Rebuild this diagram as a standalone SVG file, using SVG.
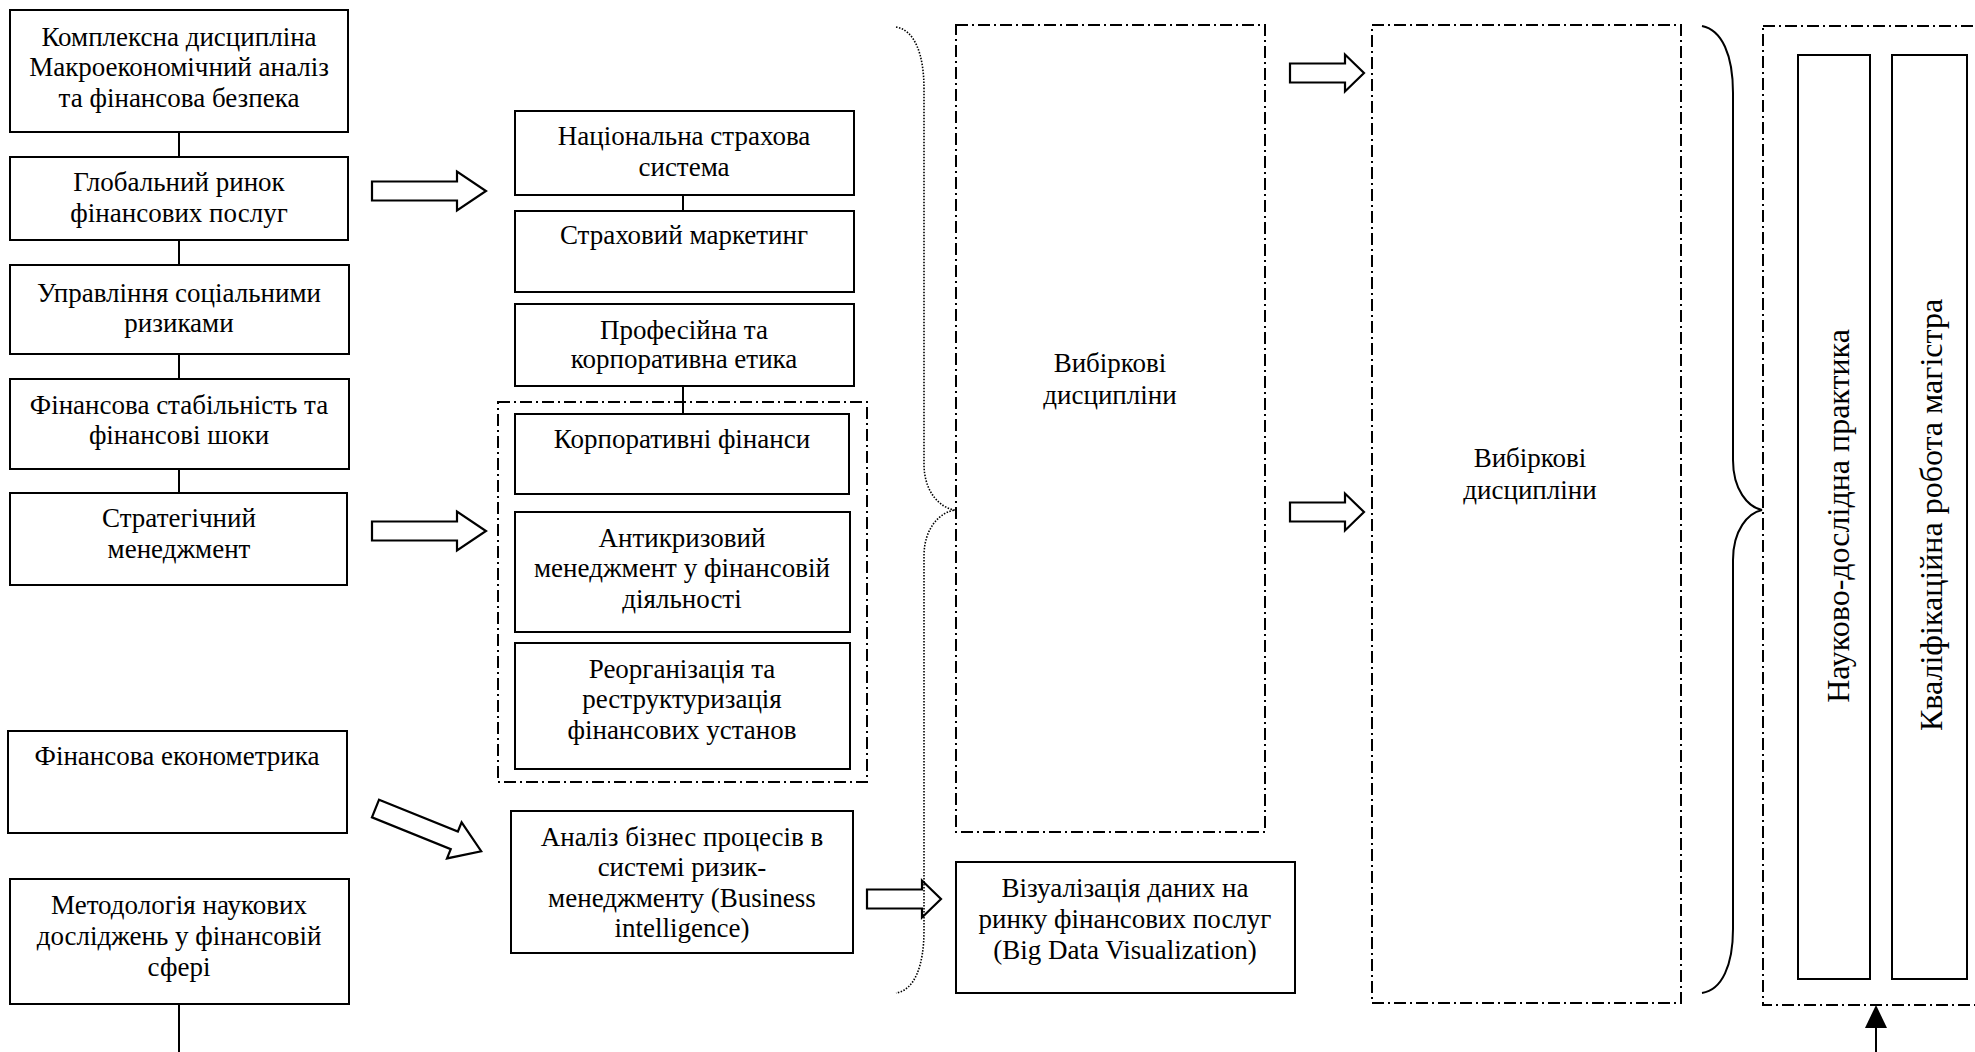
<svg xmlns="http://www.w3.org/2000/svg" width="1975" height="1052" viewBox="0 0 1975 1052">
<defs>
<style>
text{font-family:"Liberation Serif","Times New Roman",serif;font-size:27px;fill:#000;text-anchor:middle}
text.v{font-size:32px}
.box{fill:#fff;stroke:#000;stroke-width:2}
.dd{fill:none;stroke:#000;stroke-width:2;stroke-dasharray:12 4 2 4}
.ln{fill:none;stroke:#000;stroke-width:2}
.arr{fill:#fff;stroke:#000;stroke-width:2.2;stroke-linejoin:miter}
.dot{fill:none;stroke:#000;stroke-width:1.6;stroke-dasharray:1.5 1.5}
</style>
<polygon id="ha" points="0,-9.5 85,-9.5 85,-19.5 114,0 85,19.5 85,9.5 0,9.5"/>
<polygon id="hs" points="0,-9.5 55,-9.5 55,-18.5 74,0 55,18.5 55,9.5 0,9.5"/>
</defs>
<rect width="1975" height="1052" fill="#fff"/>

<g id="connectors">
<line class="ln" x1="179" y1="132" x2="179" y2="157"/>
<line class="ln" x1="179" y1="240" x2="179" y2="265"/>
<line class="ln" x1="179" y1="354" x2="179" y2="379"/>
<line class="ln" x1="179" y1="469" x2="179" y2="493"/>
<line class="ln" x1="179" y1="1004" x2="179" y2="1052"/>
<line class="ln" x1="683" y1="195" x2="683" y2="211"/>
<line class="ln" x1="683" y1="386" x2="683" y2="414"/>
<use href="#ha" class="arr" x="372" y="191"/>
<use href="#ha" class="arr" x="372" y="531"/>
<use href="#ha" class="arr" transform="translate(375.5,808.5) rotate(22)"/>
<use href="#hs" class="arr" x="867" y="899"/>
<use href="#hs" class="arr" x="1290" y="73"/>
<use href="#hs" class="arr" x="1290" y="512"/>
<path class="dot" d="M896,27 C915,30 924,55 924,89 L924,464 C924,492 940,508 955,510 C940,512 924,528 924,556 L924,930 C924,965 915,990 896,993"/>
<path class="ln" d="M1702,26 C1722,30 1733,55 1733,93 L1733,460 C1733,490 1748,507 1762,510 C1748,513 1733,530 1733,560 L1733,929 C1733,965 1722,990 1702,993"/>
<line class="ln" x1="1876" y1="1052" x2="1876" y2="1026"/>
<polygon points="1876,1005 1865,1028 1887,1028" fill="#000"/>
</g>

<g id="n1"><rect class="box" x="10" y="10" width="338" height="122"/>
<text x="179" y="46">Комплексна дисципліна</text><text x="179" y="76">Макроекономічний аналіз</text><text x="179" y="107">та фінансова безпека</text></g>
<g id="n2"><rect class="box" x="10" y="157" width="338" height="83"/>
<text x="179" y="191">Глобальний ринок</text><text x="179" y="222">фінансових послуг</text></g>
<g id="n3"><rect class="box" x="10" y="265" width="339" height="89"/>
<text x="179" y="302">Управління соціальними</text><text x="179" y="332">ризиками</text></g>
<g id="n4"><rect class="box" x="10" y="379" width="339" height="90"/>
<text x="179" y="414">Фінансова стабільність та</text><text x="179" y="444">фінансові шоки</text></g>
<g id="n5"><rect class="box" x="10" y="493" width="337" height="92"/>
<text x="179" y="527">Стратегічний</text><text x="179" y="558">менеджмент</text></g>
<g id="n6"><rect class="box" x="8" y="731" width="339" height="102"/>
<text x="177" y="765">Фінансова економетрика</text></g>
<g id="n7"><rect class="box" x="10" y="879" width="339" height="125"/>
<text x="179" y="914">Методологія наукових</text><text x="179" y="945">досліджень у фінансовій</text><text x="179" y="976">сфері</text></g>

<g id="n8"><rect class="box" x="515" y="111" width="339" height="84"/>
<text x="684" y="145">Національна страхова</text><text x="684" y="176">система</text></g>
<g id="n9"><rect class="box" x="515" y="211" width="339" height="81"/>
<text x="684" y="244">Страховий маркетинг</text></g>
<g id="n10"><rect class="box" x="515" y="304" width="339" height="82"/>
<text x="684" y="339">Професійна та</text><text x="684" y="368">корпоративна етика</text></g>
<g id="grp1"><rect class="dd" x="498" y="402" width="369" height="380"/></g>
<g id="n11"><rect class="box" x="515" y="414" width="334" height="80"/>
<text x="682" y="448">Корпоративні фінанси</text></g>
<g id="n12"><rect class="box" x="515" y="512" width="335" height="120"/>
<text x="682" y="547">Антикризовий</text><text x="682" y="577">менеджмент у фінансовій</text><text x="682" y="608">діяльності</text></g>
<g id="n13"><rect class="box" x="515" y="643" width="335" height="126"/>
<text x="682" y="678">Реорганізація та</text><text x="682" y="708">реструктуризація</text><text x="682" y="739">фінансових установ</text></g>
<g id="n14"><rect class="box" x="511" y="811" width="342" height="142"/>
<text x="682" y="846">Аналіз бізнес процесів в</text><text x="682" y="876">системі ризик-</text><text x="682" y="907">менеджменту (Business</text><text x="682" y="937">intelligence)</text></g>

<g id="n15"><rect class="dd" x="956" y="25" width="309" height="807"/>
<text x="1110" y="372">Вибіркові</text><text x="1110" y="404">дисципліни</text></g>
<g id="n16"><rect class="box" x="956" y="862" width="339" height="131"/>
<text x="1125" y="897">Візуалізація даних на</text><text x="1125" y="928">ринку фінансових послуг</text><text x="1125" y="959">(Big Data Visualization)</text></g>
<g id="n17"><rect class="dd" x="1372" y="25" width="309" height="978"/>
<text x="1530" y="467">Вибіркові</text><text x="1530" y="499">дисципліни</text></g>

<g id="grp2"><rect class="dd" x="1763" y="26" width="230" height="979"/></g>
<g id="n18"><rect class="box" x="1798" y="55" width="72" height="924"/>
<text class="v" transform="translate(1849,516) rotate(-90)" x="0" y="0">Науково-дослідна практика</text></g>
<g id="n19"><rect class="box" x="1892" y="55" width="75" height="924"/>
<text class="v" transform="translate(1942,515) rotate(-90)" x="0" y="0">Кваліфікаційна робота магістра</text></g>
</svg>
